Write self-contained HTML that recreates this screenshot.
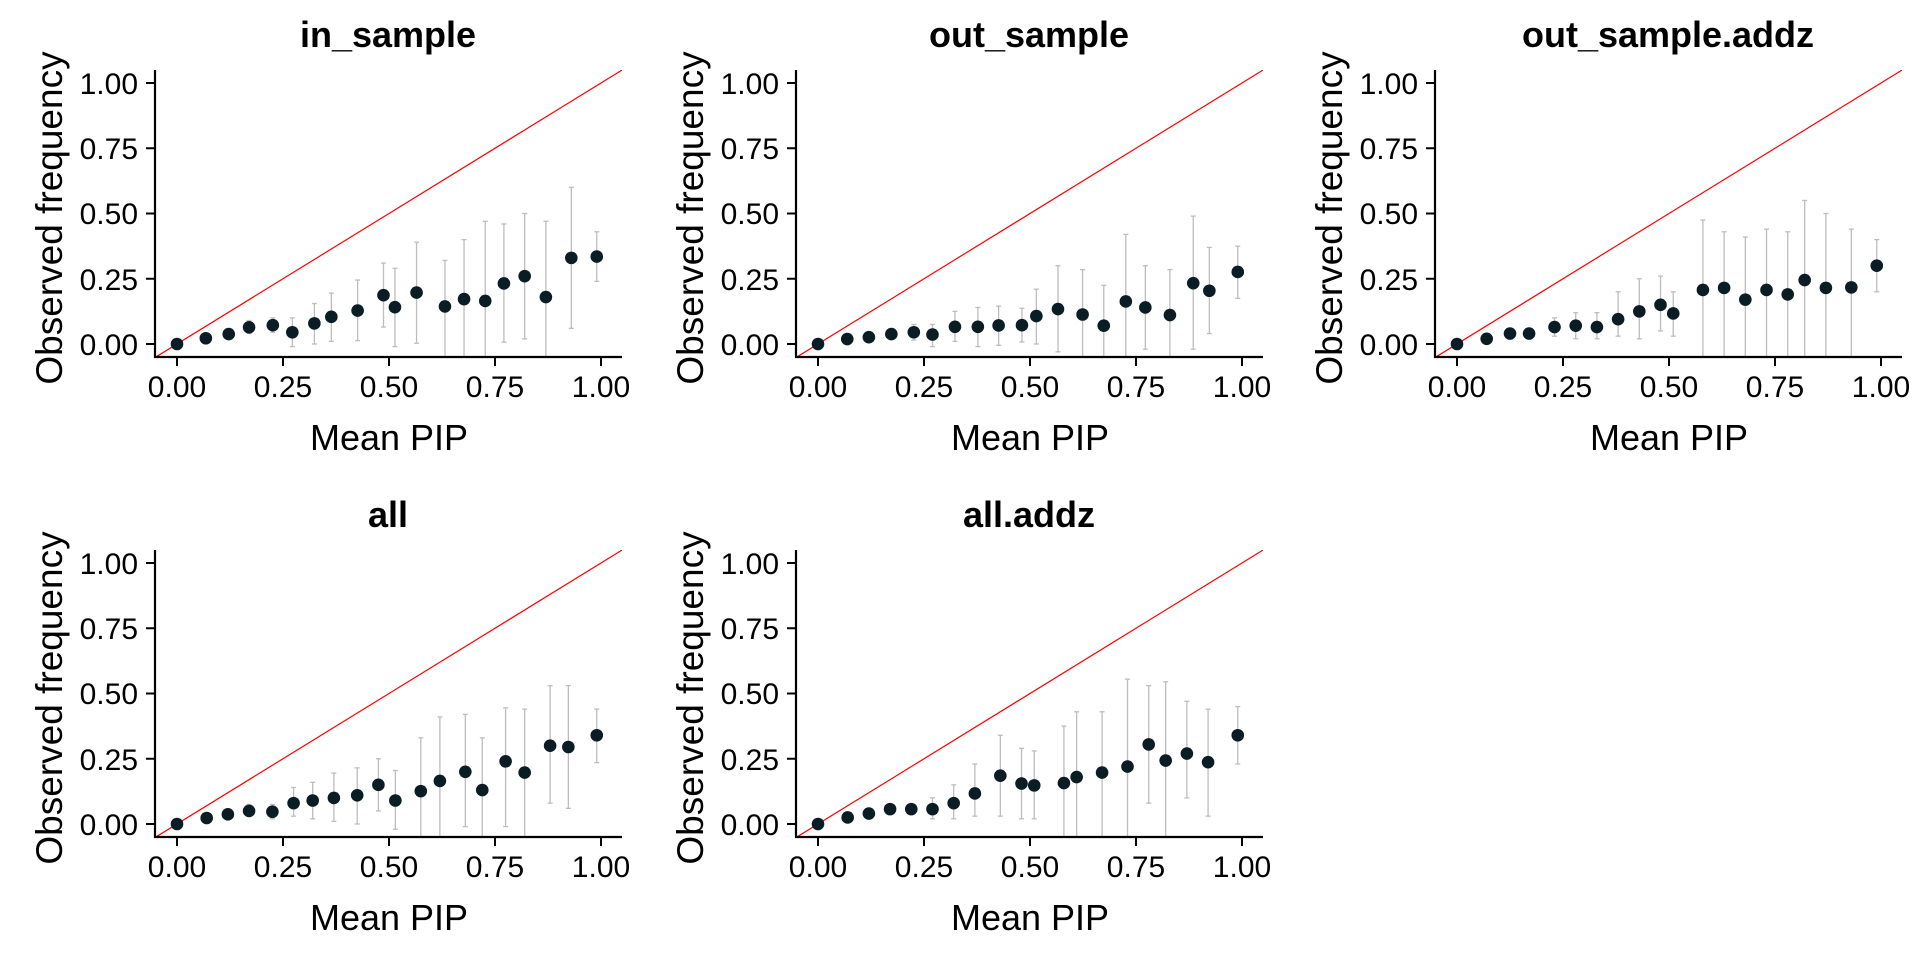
<!DOCTYPE html>
<html><head><meta charset="utf-8"><style>
html,body{margin:0;padding:0;background:#fff;}
svg{display:block;font-family:"Liberation Sans",Arial,sans-serif;}
.tl{font-size:30px;fill:#000;}
.ti{font-size:36px;font-weight:bold;fill:#000;}
.ax{font-size:36px;fill:#000;}
.ay{font-size:37px;fill:#000;}
</style></head><body>
<svg id="s" width="1920" height="960" xmlns="http://www.w3.org/2000/svg">
<g id="p0" transform="translate(0,0)">
<text class="ti" x="388" y="47" text-anchor="middle">in_sample</text>
<text class="ay" transform="translate(62,218) rotate(-90)" text-anchor="middle">Observed frequency</text>
<text class="ax" x="389" y="450" text-anchor="middle">Mean PIP</text>
<g class="tl" text-anchor="end"><text x="138" y="355">0.00</text><text x="138" y="290">0.25</text><text x="138" y="224">0.50</text><text x="138" y="159">0.75</text><text x="138" y="94">1.00</text></g>
<g class="tl" text-anchor="middle"><text x="177" y="397">0.00</text><text x="283" y="397">0.25</text><text x="389" y="397">0.50</text><text x="495" y="397">0.75</text><text x="601" y="397">1.00</text></g>
</g>
<g id="p1" transform="translate(641,0)">
<text class="ti" x="388" y="47" text-anchor="middle">out_sample</text>
<text class="ay" transform="translate(62,218) rotate(-90)" text-anchor="middle">Observed frequency</text>
<text class="ax" x="389" y="450" text-anchor="middle">Mean PIP</text>
<g class="tl" text-anchor="end"><text x="138" y="355">0.00</text><text x="138" y="290">0.25</text><text x="138" y="224">0.50</text><text x="138" y="159">0.75</text><text x="138" y="94">1.00</text></g>
<g class="tl" text-anchor="middle"><text x="177" y="397">0.00</text><text x="283" y="397">0.25</text><text x="389" y="397">0.50</text><text x="495" y="397">0.75</text><text x="601" y="397">1.00</text></g>
</g>
<g id="p2" transform="translate(1280,0)">
<text class="ti" x="388" y="47" text-anchor="middle">out_sample.addz</text>
<text class="ay" transform="translate(62,218) rotate(-90)" text-anchor="middle">Observed frequency</text>
<text class="ax" x="389" y="450" text-anchor="middle">Mean PIP</text>
<g class="tl" text-anchor="end"><text x="138" y="355">0.00</text><text x="138" y="290">0.25</text><text x="138" y="224">0.50</text><text x="138" y="159">0.75</text><text x="138" y="94">1.00</text></g>
<g class="tl" text-anchor="middle"><text x="177" y="397">0.00</text><text x="283" y="397">0.25</text><text x="389" y="397">0.50</text><text x="495" y="397">0.75</text><text x="601" y="397">1.00</text></g>
</g>
<g id="p3" transform="translate(0,480)">
<text class="ti" x="388" y="47" text-anchor="middle">all</text>
<text class="ay" transform="translate(62,218) rotate(-90)" text-anchor="middle">Observed frequency</text>
<text class="ax" x="389" y="450" text-anchor="middle">Mean PIP</text>
<g class="tl" text-anchor="end"><text x="138" y="355">0.00</text><text x="138" y="290">0.25</text><text x="138" y="224">0.50</text><text x="138" y="159">0.75</text><text x="138" y="94">1.00</text></g>
<g class="tl" text-anchor="middle"><text x="177" y="397">0.00</text><text x="283" y="397">0.25</text><text x="389" y="397">0.50</text><text x="495" y="397">0.75</text><text x="601" y="397">1.00</text></g>
</g>
<g id="p4" transform="translate(641,480)">
<text class="ti" x="388" y="47" text-anchor="middle">all.addz</text>
<text class="ay" transform="translate(62,218) rotate(-90)" text-anchor="middle">Observed frequency</text>
<text class="ax" x="389" y="450" text-anchor="middle">Mean PIP</text>
<g class="tl" text-anchor="end"><text x="138" y="355">0.00</text><text x="138" y="290">0.25</text><text x="138" y="224">0.50</text><text x="138" y="159">0.75</text><text x="138" y="94">1.00</text></g>
<g class="tl" text-anchor="middle"><text x="177" y="397">0.00</text><text x="283" y="397">0.25</text><text x="389" y="397">0.50</text><text x="495" y="397">0.75</text><text x="601" y="397">1.00</text></g>
</g>
</svg>
<script>
var D=[
[[0,0],[0.068,0.022],[0.122,0.038],[0.17,0.064,0.04,0.09],[0.226,0.072,0.045,0.10],[0.272,0.045,-0.01,0.1],[0.324,0.079,0,0.155],[0.364,0.104,0.01,0.195],[0.426,0.128,0.013,0.245],[0.487,0.187,0.065,0.31],[0.514,0.141,-0.01,0.29],[0.565,0.197,0.003,0.39],[0.632,0.144,-0.05,0.32],[0.677,0.172,-0.05,0.40],[0.727,0.165,-0.05,0.47],[0.771,0.232,0.007,0.46],[0.82,0.26,0.02,0.5],[0.87,0.18,-0.05,0.47],[0.93,0.33,0.06,0.6],[0.99,0.335,0.24,0.43]],
[[0,0],[0.069,0.019],[0.12,0.026],[0.173,0.038],[0.226,0.045,0.015,0.075],[0.27,0.036,-0.01,0.075],[0.323,0.066,0.01,0.125],[0.377,0.066,-0.01,0.14],[0.426,0.071,-0.005,0.145],[0.481,0.072,0.008,0.137],[0.515,0.107,0,0.21],[0.566,0.134,-0.03,0.30],[0.624,0.113,-0.05,0.285],[0.674,0.07,-0.05,0.225],[0.726,0.163,-0.05,0.42],[0.772,0.14,-0.02,0.30],[0.83,0.111,-0.05,0.285],[0.885,0.233,-0.02,0.49],[0.923,0.204,0.04,0.37],[0.99,0.276,0.175,0.375]],
[[0,0],[0.07,0.02],[0.125,0.04],[0.17,0.04],[0.23,0.065,0.03,0.1],[0.28,0.07,0.02,0.12],[0.33,0.065,0.02,0.12],[0.38,0.095,0.03,0.2],[0.43,0.125,0.02,0.25],[0.48,0.15,0.05,0.26],[0.51,0.117,0.03,0.2],[0.58,0.207,-0.05,0.475],[0.63,0.215,-0.05,0.43],[0.68,0.17,-0.05,0.41],[0.73,0.207,-0.05,0.44],[0.78,0.19,-0.05,0.43],[0.82,0.245,-0.05,0.55],[0.87,0.215,-0.05,0.5],[0.93,0.217,-0.05,0.44],[0.99,0.30,0.2,0.4]],
[[0,0],[0.07,0.023],[0.12,0.037],[0.17,0.05,0.03,0.075],[0.225,0.047,0.02,0.075],[0.275,0.08,0.03,0.14],[0.32,0.09,0.02,0.16],[0.37,0.10,0.01,0.195],[0.425,0.11,0,0.215],[0.475,0.15,0.05,0.25],[0.515,0.09,-0.02,0.205],[0.575,0.126,-0.05,0.33],[0.62,0.165,-0.05,0.41],[0.68,0.2,-0.01,0.42],[0.72,0.13,-0.05,0.33],[0.775,0.24,-0.01,0.445],[0.82,0.197,-0.05,0.44],[0.88,0.30,0.08,0.53],[0.923,0.295,0.06,0.53],[0.99,0.34,0.235,0.44]],
[[0,0],[0.07,0.025],[0.12,0.04],[0.17,0.057],[0.22,0.057],[0.27,0.057,0.02,0.1],[0.32,0.08,0.02,0.15],[0.37,0.117,0.03,0.23],[0.43,0.185,0.03,0.34],[0.48,0.155,0.02,0.29],[0.51,0.148,0.02,0.28],[0.58,0.157,-0.05,0.375],[0.61,0.18,-0.05,0.43],[0.67,0.197,-0.05,0.43],[0.73,0.22,-0.05,0.555],[0.78,0.305,0.08,0.53],[0.82,0.243,-0.05,0.545],[0.87,0.27,0.1,0.47],[0.92,0.237,0.03,0.44],[0.99,0.34,0.23,0.45]]
];
var NS="http://www.w3.org/2000/svg";
function X(v){return 177+v*424;}function Y(v){return 344-v*261;}
function el(g,t,a){var e=document.createElementNS(NS,t);for(var k in a)e.setAttribute(k,a[k]);g.appendChild(e);return e;}
for(var i=0;i<5;i++){var g=document.getElementById("p"+i);
 var cid="c"+i;var cp=el(g,"clipPath",{id:cid});el(cp,"rect",{x:155,y:70,width:467,height:287});
 var pts=D[i];
 pts.forEach(function(p){if(p.length>2){var lo=Math.max(p[2],-0.05);
   el(g,"line",{x1:X(p[0]),x2:X(p[0]),y1:Y(lo),y2:Y(p[3]),stroke:"#bdbdbd","stroke-width":1.3});
   el(g,"line",{x1:X(p[0])-2.5,x2:X(p[0])+2.5,y1:Y(p[3]),y2:Y(p[3]),stroke:"#bdbdbd","stroke-width":1.3});
   if(p[2]>-0.05)el(g,"line",{x1:X(p[0])-2.5,x2:X(p[0])+2.5,y1:Y(lo),y2:Y(lo),stroke:"#bdbdbd","stroke-width":1.3});}});
 el(g,"line",{x1:X(-0.05),y1:Y(-0.05),x2:X(1.05),y2:Y(1.05),stroke:"#ff0000","stroke-width":1.2,"clip-path":"url(#"+cid+")"});
 pts.forEach(function(p){el(g,"circle",{cx:X(p[0]),cy:Y(p[1]),r:6.3,fill:"#0a1c24"});});
 el(g,"path",{d:"M155,70 V357 H622",fill:"none",stroke:"#000","stroke-width":2.2});
 [0,0.25,0.5,0.75,1].forEach(function(t){
  el(g,"line",{x1:146,x2:155,y1:Y(t),y2:Y(t),stroke:"#000","stroke-width":2});
  el(g,"line",{x1:X(t),x2:X(t),y1:357,y2:366,stroke:"#000","stroke-width":2});});
}
</script>
</body></html>
